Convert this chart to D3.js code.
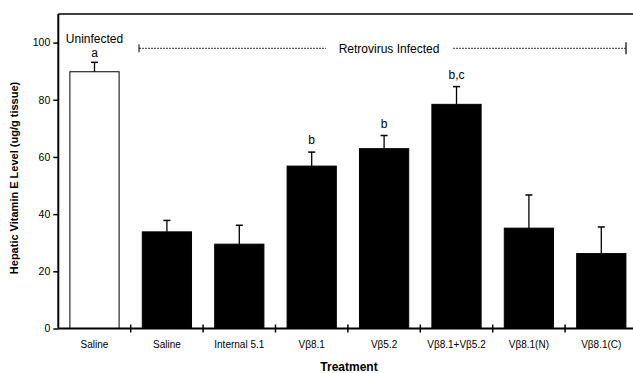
<!DOCTYPE html>
<html><head><meta charset="utf-8">
<script src="https://cdn.jsdelivr.net/npm/d3@7"></script>
<style>body{margin:0;background:#fff;}svg{display:block;font-family:"Liberation Sans",Arial,sans-serif;}</style>
</head><body>
<svg id="c" width="633" height="373"></svg>
<script>
const categories = ["Saline","Saline","Internal 5.1","Vβ8.1","Vβ5.2","Vβ8.1+Vβ5.2","Vβ8.1(N)","Vβ8.1(C)"];
const means = [89.8, 33.8, 29.5, 56.8, 62.9, 78.4, 35.1, 26.2];
const errTop = [93.1, 37.8, 36.1, 61.7, 67.5, 84.6, 46.7, 35.5];
const sigLabels = ["a","","","b","b","b,c","",""];
const fills = ["white","black","black","black","black","black","black","black"];
const yTicks = [0,20,40,60,80,100];

(function(){
const svg = d3.select("#c");
const pL = 58.3, pR = 637.5, pT = 14, pB = 328.5;
const x = d3.scaleBand().domain(d3.range(categories.length)).range([pL, pR]).paddingInner(0.32).paddingOuter(0.16);
const y = d3.scaleLinear().domain([0, 110]).range([pB, pT]);

// frame top line
svg.append("line").attr("x1", pL).attr("x2", 633).attr("y1", pT).attr("y2", pT).attr("stroke","#000").attr("stroke-width",1.5);

// bars
svg.selectAll("rect.bar").data(means).join("rect").attr("class","bar")
  .attr("x",(d,i)=>x(i)).attr("width",x.bandwidth())
  .attr("y",d=>y(d)).attr("height",d=>y(0)-y(d))
  .attr("fill",(d,i)=>fills[i]).attr("stroke","#000").attr("stroke-width",1);

// error bars
const eb = svg.selectAll("g.err").data(errTop).join("g").attr("class","err");
eb.append("line").attr("x1",(d,i)=>x(i)+x.bandwidth()/2).attr("x2",(d,i)=>x(i)+x.bandwidth()/2)
  .attr("y1",(d,i)=>y(means[i])).attr("y2",d=>y(d)).attr("stroke","#000").attr("stroke-width",1.3);
eb.append("line").attr("x1",(d,i)=>x(i)+x.bandwidth()/2-3.5).attr("x2",(d,i)=>x(i)+x.bandwidth()/2+3.5)
  .attr("y1",d=>y(d)).attr("y2",d=>y(d)).attr("stroke","#000").attr("stroke-width",1.5);

// significance letters (first one sits tight under the "Uninfected" label)
svg.selectAll("text.sig").data(sigLabels).join("text").attr("class","sig")
  .attr("x",(d,i)=>x(i)+x.bandwidth()/2).attr("y",(d,i)=>Math.max(y(errTop[i])-8, 56.5))
  .attr("text-anchor","middle").attr("font-size",12).attr("fill","#000").text(d=>d);

// Uninfected label
svg.append("text").attr("x",x(0)+x.bandwidth()/2).attr("y",43).attr("text-anchor","middle").attr("font-size",12).attr("fill","#000").text("Uninfected");

// Retrovirus infected bracket
const by = 48.3;
svg.append("line").attr("x1",139).attr("x2",139).attr("y1",by-4).attr("y2",by+4).attr("stroke","#000");
svg.append("line").attr("x1",626).attr("x2",626).attr("y1",by-6).attr("y2",by+6).attr("stroke","#000").attr("stroke-width",1.2);
svg.append("line").attr("x1",139).attr("x2",326).attr("y1",by).attr("y2",by).attr("stroke","#000").attr("stroke-dasharray","2,1").attr("stroke-width",0.8);
svg.append("line").attr("x1",453).attr("x2",626).attr("y1",by).attr("y2",by).attr("stroke","#000").attr("stroke-dasharray","2,1").attr("stroke-width",0.8);
svg.append("text").attr("x",389).attr("y",52.5).attr("text-anchor","middle").attr("font-size",12).attr("fill","#000").text("Retrovirus Infected");

// y axis
const yAxis = d3.axisLeft(y).tickValues(yTicks).tickSize(5).tickPadding(3);
const ga = svg.append("g").attr("transform",`translate(${pL},0)`).call(yAxis);
ga.select(".domain").attr("d",`M0,${pB}V${pT}`).attr("stroke-width",2);
ga.selectAll(".tick line").attr("stroke-width",1.5);
ga.selectAll(".tick text").attr("font-size",10.5).attr("font-family","Liberation Sans, Arial, sans-serif").attr("fill","#000");

// x axis
const xAxis = d3.axisBottom(x).tickFormat(i=>categories[i]).tickSize(0).tickPadding(12);
const gx = svg.append("g").attr("transform",`translate(0,${pB})`).call(xAxis);
gx.select(".domain").attr("d",`M${pL},0H${pR}`).attr("stroke-width",2);
gx.selectAll(".tick text").attr("font-size",10).attr("font-family","Liberation Sans, Arial, sans-serif").attr("fill","#000");
// boundary tick crosses
const bounds = d3.range(1, categories.length).map(k => x(k) - x.step()*x.paddingInner()/2);
gx.selectAll("line.bt").data(bounds).join("line").attr("class","bt")
  .attr("x1",d=>d).attr("x2",d=>d).attr("y1",-4).attr("y2",4).attr("stroke","#000").attr("stroke-width",1.5);

// axis titles
svg.append("text").attr("x",349).attr("y",371).attr("text-anchor","middle").attr("font-size",12).attr("font-weight","bold").attr("fill","#000").text("Treatment");
svg.append("text").attr("transform","translate(18,178) rotate(-90)").attr("text-anchor","middle").attr("font-size",11).attr("font-weight","bold").attr("fill","#000").text("Hepatic Vitamin E Level (ug/g tissue)");
})();
</script>
</body></html>
